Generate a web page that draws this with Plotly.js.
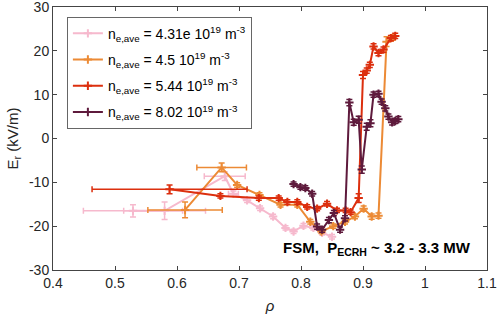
<!DOCTYPE html>
<html><head><meta charset="utf-8">
<script src="https://cdn.plot.ly/plotly-3.0.1.min.js"></script>
<style>html,body{margin:0;padding:0;background:#fff}#chart{width:498px;height:317px}</style>
</head><body><div id="chart"></div>
<script>
// Series names
const names = [
  'n<sub>e,ave</sub> = 4.31e 10<sup>19</sup> m<sup>-3</sup>',
  'n<sub>e,ave</sub> = 4.5 10<sup>19</sup> m<sup>-3</sup>',
  'n<sub>e,ave</sub> = 5.44 10<sup>19</sup> m<sup>-3</sup>',
  'n<sub>e,ave</sub> = 8.02 10<sup>19</sup> m<sup>-3</sup>'
];
const colors = ['#f6b9cd', '#ec8a35', '#dc2f0e', '#5e1a3c'];

// Pink: 4.31e
const rho1 = [0.529, 0.580, 0.677, 0.691, 0.713, 0.734, 0.755, 0.775, 0.788, 0.804, 0.820, 0.834, 0.850];
const er1  = [-16.5, -16.5, -8.6, -12.6, -14.1, -15.9, -17.8, -20.4, -21.2, -19.9, -20.4, -21.5, -22.4];
const dEr1 = [1.4, 2.0, 1.0, 0.6, 0.5, 0.5, 0.5, 0.5, 0.5, 0.5, 0.5, 0.5, 0.5];
const dRho1 = [0.08, 0.066, 0.033, 0.008, 0, 0, 0, 0, 0, 0, 0, 0, 0];

// Orange: 4.5
const rho2 = [0.613, 0.672, 0.697, 0.733, 0.767, 0.794, 0.815, 0.833, 0.852, 0.871, 0.887, 0.901, 0.914, 0.925, 0.938, 0.948];
const er2  = [-16.3, -6.6, -10.6, -12.9, -15.1, -15.1, -19.0, -21.2, -20.0, -19.0, -17.8, -16.0, -17.8, -17.6, 22.1, 23.0];
const dEr2 = [1.8, 1.0, 0.5, 0.5, 0.5, 0.5, 0.5, 0.5, 0.5, 0.5, 0.5, 0.6, 0.6, 0.6, 1.1, 0.6];
const dRho2 = [0.06, 0.04, 0, 0, 0, 0, 0, 0, 0, 0, 0, 0, 0, 0, 0, 0];

// Red: 5.44
const rho3 = [0.588, 0.670, 0.732, 0.764, 0.778, 0.794, 0.810, 0.826, 0.842, 0.858, 0.872, 0.880, 0.893, 0.900, 0.906, 0.911, 0.917, 0.925, 0.933, 0.945, 0.952];
const er3  = [-11.6, -13.1, -13.6, -13.6, -14.5, -14.5, -15.6, -16.0, -14.9, -16.4, -16.4, -16.8, -13.6, 14.5, 15.5, 16.8, 21.0, 19.5, 20.3, 22.9, 23.4];
const dEr3 = [1.0, 0.5, 0.5, 0.5, 0.5, 0.5, 0.5, 0.5, 0.5, 0.5, 0.5, 0.5, 1.0, 0.8, 0.6, 0.6, 0.6, 0.6, 0.6, 0.6, 0.6];
const dRho3 = [0.125, 0, 0, 0, 0, 0, 0, 0, 0, 0, 0, 0, 0, 0, 0, 0, 0, 0, 0, 0, 0];

// Purple: 8.02
const rho4 = [0.788, 0.799, 0.807, 0.818, 0.826, 0.834, 0.845, 0.853, 0.863, 0.871, 0.878, 0.885, 0.893, 0.898, 0.906, 0.912, 0.917, 0.925, 0.930, 0.936, 0.941, 0.947, 0.952, 0.957];
const er4  = [-10.4, -11.1, -11.3, -12.6, -20.1, -20.8, -18.6, -17.0, -20.8, -18.2, 8.2, 3.7, 4.3, -7.1, 2.7, 3.5, 10.0, 10.2, 8.4, 6.9, 5.0, 3.7, 4.0, 4.4];
const dEr4 = [0.5, 0.5, 0.5, 0.5, 0.6, 0.6, 0.6, 0.6, 0.6, 0.6, 0.7, 0.7, 0.8, 0.8, 0.8, 0.8, 0.6, 0.6, 0.6, 0.6, 0.6, 0.6, 0.6, 0.6];
const dRho4 = rho4.map(() => 0);

const xTicks = [0.4, 0.5, 0.6, 0.7, 0.8, 0.9, 1, 1.1];
const yTicks = [-30, -20, -10, 0, 10, 20, 30];

const series = [
  [rho1, er1, dRho1, dEr1],
  [rho2, er2, dRho2, dEr2],
  [rho3, er3, dRho3, dEr3],
  [rho4, er4, dRho4, dEr4]
];

const traces = series.map((s, i) => ({
  type: 'scatter', mode: 'lines+markers',
  x: s[0], y: s[1], name: names[i], legendgroup: 'g' + i,
  line: {color: colors[i], width: 2},
  marker: {symbol: 'cross-thin', size: 6, color: colors[i], line: {color: colors[i], width: 2}},
  error_y: {type: 'data', array: s[3], visible: true, color: colors[i], thickness: 1.5, width: 3},
  error_x: {type: 'data', array: s[2], visible: true, color: colors[i], thickness: 1.5, width: 3}
}));

const font = 'Liberation Sans, Arial, Helvetica, sans-serif';
const layout = {
  width: 498, height: 317,
  margin: {l: 53, r: 11, t: 7, b: 47},
  paper_bgcolor: '#fff', plot_bgcolor: '#fff',
  font: {family: font, size: 14, color: '#262626'},
  showlegend: true,
  legend: {x: 0.032, y: 0.963, xanchor: 'left', yanchor: 'top',
    bordercolor: '#666', borderwidth: 1, bgcolor: '#fff',
    font: {family: font, size: 14, color: '#000'}, tracegroupgap: 5},
  xaxis: {range: [0.4, 1.1], tickvals: xTicks, ticktext: xTicks.map(String),
    ticks: 'inside', ticklen: 4, tickcolor: '#444', showline: true, linecolor: '#444', linewidth: 1,
    mirror: 'ticks', showgrid: false, zeroline: false, tickfont: {size: 14}, ticklabeloverflow: 'allow',
    title: {text: '<i>ρ</i>', standoff: 10, font: {size: 15, family: font, color: '#262626'}}},
  yaxis: {range: [-30, 30], tickvals: yTicks, ticktext: yTicks.map(String),
    ticks: 'inside', ticklen: 4, tickcolor: '#444', showline: true, linecolor: '#444', linewidth: 1,
    mirror: 'ticks', showgrid: false, zeroline: false, tickfont: {size: 14}, ticklabeloverflow: 'allow',
    title: {text: 'E<sub>r</sub> (kV/m)', standoff: 6, font: {size: 15, family: font, color: '#262626'}}},
  annotations: [{
    xref: 'x', yref: 'y', x: 0.922, y: -25.2, xanchor: 'center', yanchor: 'middle',
    showarrow: false, text: '<b>FSM,  P<sub>ECRH</sub> ~ 3.2 - 3.3 MW</b>',
    font: {family: font, size: 15, color: '#000'}
  }]
};

Plotly.newPlot('chart', traces, layout, {displayModeBar: false, staticPlot: true});
</script></body></html>
